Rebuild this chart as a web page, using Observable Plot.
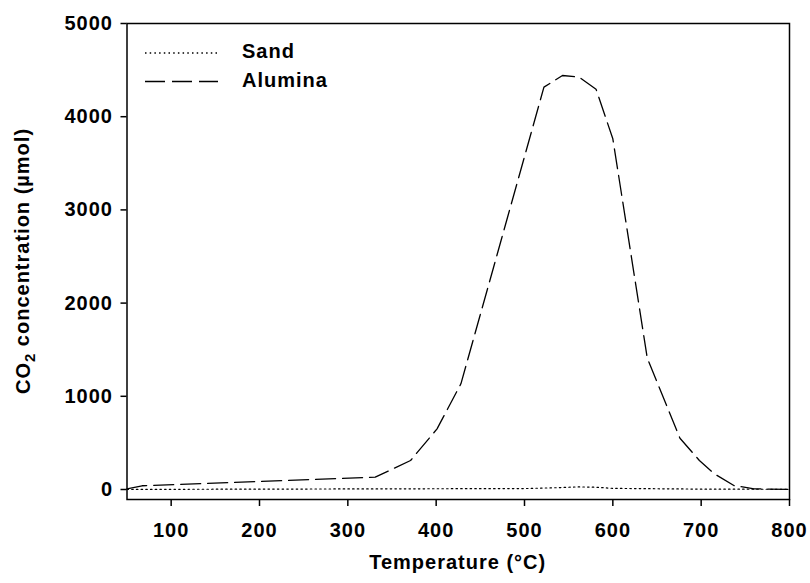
<!DOCTYPE html>
<html><head><meta charset="utf-8">
<script src="https://cdn.jsdelivr.net/npm/d3@7"></script>
<script src="https://cdn.jsdelivr.net/npm/@observablehq/plot@0.6"></script>
<style>
body{margin:0;background:#fff}
#chart svg text{letter-spacing:1px}
</style>
</head><body><div id="chart"></div>
<script>
// Data
const aluminaTemp = [50, 67, 331, 371, 401, 428, 465, 522, 543, 562, 581, 600, 639, 676, 698, 715, 737, 760, 800];
const aluminaCO2  = [7, 40, 132, 311, 651, 1134, 2385, 4317, 4442, 4424, 4295, 3763, 1410, 550, 311, 168, 43, 7, 0];
const sandTemp = [50, 100, 200, 300, 400, 500, 540, 560, 580, 600, 700, 800];
const sandCO2  = [0, 2, 4, 6, 8, 10, 20, 28, 25, 12, 4, 2];
const xTicks = [100, 200, 300, 400, 500, 600, 700, 800];
const yTicks = [0, 1000, 2000, 3000, 4000, 5000];
const seriesNames = ["Sand", "Alumina"];

const alumina = aluminaTemp.map((t, i) => ({t, v: aluminaCO2[i]}));
const sand = sandTemp.map((t, i) => ({t, v: sandCO2[i]}));

const FONT = "'Liberation Sans', Arial, Helvetica, sans-serif";
const FS = 20;
const chart = Plot.plot({
  width: 810, height: 583,
  marginLeft: 126.5, marginRight: 21, marginTop: 23, marginBottom: 84,
  style: {fontFamily: FONT, fontSize: FS + "px", fontWeight: "bold", color: "#000", background: "#fff", overflow: "visible"},
  x: {domain: [50, 800], label: null},
  y: {domain: [-107.3, 5000], label: null},
  marks: [
    Plot.line(sand, {x: "t", y: "v", stroke: "#000", strokeWidth: 1.2, strokeDasharray: "1.5,3.2"}),
    Plot.line(alumina, {x: "t", y: "v", stroke: "#000", strokeWidth: 1.3, strokeDasharray: "20,7"}),
    Plot.frame({stroke: "#000", strokeWidth: 1.5}),
    Plot.axisX({ticks: xTicks, tickSize: 7, tickPadding: 16, tickFormat: "d", label: null, strokeWidth: 1.5}),
    Plot.axisY({ticks: yTicks, tickSize: 6, tickPadding: 8, tickFormat: "d", label: null, strokeWidth: 1.5})
  ]
});
document.getElementById("chart").appendChild(chart);

const svg = d3.select(chart);
// Axis titles
svg.append("text")
  .attr("x", 457.7).attr("y", 564)
  .attr("text-anchor", "middle").attr("dominant-baseline", "middle")
  .attr("font-family", FONT).attr("font-size", FS).attr("font-weight", "bold")
  .text("Temperature (°C)");
const yt = svg.append("text")
  .attr("transform", "translate(30,261) rotate(-90)")
  .attr("text-anchor", "middle")
  .attr("font-family", FONT).attr("font-size", FS).attr("font-weight", "bold");
yt.append("tspan").text("CO");
yt.append("tspan").attr("dy", "0.3em").attr("font-size", 15).text("2");
yt.append("tspan").attr("dy", "-0.3em").text(" concentration (µmol)");

// Legend
const legend = svg.append("g").attr("text-anchor", "start");
const dashes = ["1.5,3.2", "20,7"];
seriesNames.forEach((name, i) => {
  const y = 53 + i * 28.5;
  legend.append("line").attr("x1", 145).attr("x2", 218).attr("y1", y).attr("y2", y)
    .attr("stroke", "#000").attr("stroke-width", 1.3).attr("stroke-dasharray", dashes[i]);
  legend.append("text").attr("x", 242).attr("y", y).attr("dominant-baseline", "middle")
    .attr("text-anchor", "start")
    .attr("font-family", FONT).attr("font-size", FS).attr("font-weight", "bold").text(name);
});
</script>
</body></html>
